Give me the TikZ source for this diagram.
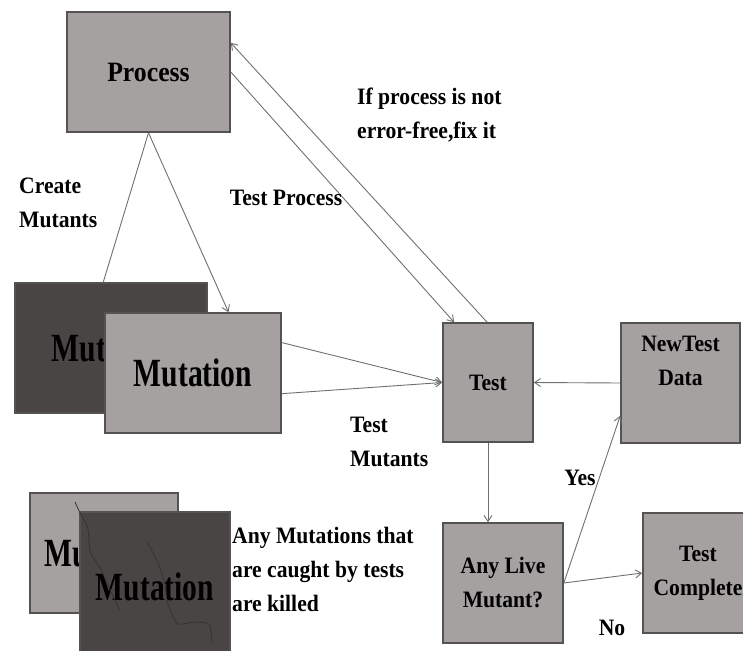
\documentclass[tikz,border=0pt]{standalone}
\usepackage{fontspec}
\usetikzlibrary{arrows.meta,calc}
\newfontfamily\dfont[FakeStretch=0.92]{Liberation Serif}
\newfontfamily\bigfont[FakeStretch=0.74]{Liberation Serif}
\definecolor{boxlight}{HTML}{A5A1A1}
\definecolor{boxdark}{HTML}{4A4545}
\definecolor{boxedge}{HTML}{555252}
\definecolor{wire}{HTML}{707070}
\tikzset{
  x=1pt, y=-1pt,
  txt/.style={font=\dfont\bfseries\fontsize{23.5}{34}\selectfont},
  box/.style={draw=boxedge, line width=1.6pt, fill=boxlight, inner sep=0pt,
    align=center, txt},
  darkbox/.style={box, fill=boxdark},
  mutbox/.style={font=\bigfont\bfseries\fontsize{40}{44}\selectfont},
  wire/.style={draw=wire, line width=0.9pt},
  arr/.style={wire, -{Straight Barb[length=6pt,width=8pt]}},
  lbl/.style={align=left, inner sep=0pt, txt},
  crack/.style={draw=black!80, line width=0.8pt, rounded corners=4pt}
}
\begin{document}
\begin{tikzpicture}
\clip (0,0) rectangle (743,650);
\fill[white] (0,0) rectangle (743,650);

% top group: mutant copies made from the process
\node[box, minimum width=163pt, minimum height=120pt, font=\dfont\bfseries\fontsize{28}{32}\selectfont] (proc) at (148.5,72) {Process};
\node[darkbox, mutbox, minimum width=192pt, minimum height=130pt] (mutA) at (111,348) {Mutation};
\node[box, mutbox, minimum width=176pt, minimum height=120pt] (mutB) at (193,373) {Mutation};

% testing loop
\node[box, minimum width=90pt, minimum height=119pt] (test) at (488,382.5) {Test};
\node[box, minimum width=119pt, minimum height=120pt] (newd) at (680.5,383) {};
\node[txt, align=center, anchor=north, inner sep=0pt] (newdtxt) at ($(newd.north)+(0,14)$) {NewTest\\Data};
\node[box, minimum width=120pt, minimum height=120pt] (live) at (503,583) {Any Live\\Mutant?};
\node[box, minimum width=110pt, minimum height=120pt] (done) at (698,573) {Test\\Complete};

% bottom group: killed mutants
\node[box, mutbox, minimum width=148pt, minimum height=120pt] (killA) at (104,553) {Mutation};
\node[darkbox, mutbox, minimum width=150pt, minimum height=150pt] (killB) at (155,587) {Mutation};
\draw[crack] (75,502) -- (80,513) -- (88,527) -- (90,553) -- (100,567) -- (110,590) -- (120,610);
\draw[crack] (147,542) -- (157,560) -- (165,583) -- (167,603) -- (177,625) -- (193,622) -- (210,623) -- (212,642);

% connectors
\draw[wire] (proc.south) -- ($(mutA.north west)!0.46!(mutA.north east)$);
\draw[arr] (proc.south) -- ($(mutB.north west)!0.70!(mutB.north east)$);
\draw[arr] (proc.east) -- ($(test.north west)!0.13!(test.north east)$);
\draw[arr] ($(test.north west)!0.49!(test.north east)$) -- ($(proc.north east)!0.26!(proc.south east)$);
\draw[arr] ($(mutB.north east)!0.25!(mutB.south east)$) -- (test.west);
\draw[arr] ($(mutB.north east)!0.67!(mutB.south east)$) -- (test.west);
\draw[arr] (newd.west) -- (test.east);
\draw[arr] (test.south) -- (test.south |- live.north);
\draw[arr] (live.east) -- ($(newd.north west)!0.77!(newd.south west)$);
\draw[arr] (live.east) -- (done.west);

% labels
\node[lbl, anchor=north west] (lcreate) at (19,178) {Create\\Mutants};
\node[lbl] (ltestproc) at (286,198) {Test Process};
\node[lbl, anchor=north west] (lfix) at (357,88) {If process is not\\error-free,fix it};
\node[lbl, anchor=north west] (ltestmut) at (350,417) {Test\\Mutants};
\node[lbl] (lyes) at (580,478) {Yes};
\node[lbl] (lno) at (612,628) {No};
\node[lbl, anchor=north west] (lkilled) at (232,527) {Any Mutations that\\are caught by tests\\are killed};
\end{tikzpicture}
\end{document}
